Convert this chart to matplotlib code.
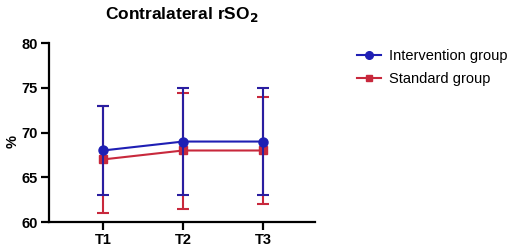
import matplotlib.pyplot as plt
from matplotlib.lines import Line2D
import numpy as np

plt.rcParams['font.family'] = ['Liberation Sans', 'DejaVu Sans']

# data
times = ['T1', 'T2', 'T3']
interv_mean = [68, 69, 69]
interv_upper = [73, 75, 75]
interv_lower = [63, 63, 63]
std_mean = [67, 68, 68]
std_upper = [73, 74.4, 74]
std_lower = [61, 61.5, 62]

blue = '#1f1fb4'
red = '#c8283c'

x = np.arange(len(times))

fig = plt.figure(figsize=(5.1, 2.49), dpi=100)
ax = fig.add_axes([0.096, 0.108, 0.522, 0.719])

std_err = [np.array(std_mean) - np.array(std_lower), np.array(std_upper) - np.array(std_mean)]
int_err = [np.array(interv_mean) - np.array(interv_lower), np.array(interv_upper) - np.array(interv_mean)]

ax.errorbar(x, std_mean, yerr=std_err, color=red, ecolor=red, marker='s', markersize=6,
            linewidth=1.5, elinewidth=1.5, capsize=4, capthick=1.5, zorder=2)
ax.errorbar(x, interv_mean, yerr=int_err, color=blue, ecolor='#2a1ea0', marker='o', markersize=6.5,
            linewidth=1.5, elinewidth=1.5, capsize=4, capthick=1.5, zorder=3)

ax.set_xlim(-0.675, 2.65)
ax.set_ylim(60, 80)
ax.set_yticks([60, 65, 70, 75, 80])
ax.set_xticks(x)
ax.set_xticklabels(times)

for s in ['top', 'right']:
    ax.spines[s].set_visible(False)
for s in ['left', 'bottom']:
    ax.spines[s].set_linewidth(1.6)
ax.tick_params(width=1.6, length=6, labelsize=10.5, pad=2)
for lab in ax.get_xticklabels() + ax.get_yticklabels():
    lab.set_fontweight('bold')

ax.set_ylabel('%', fontsize=10.5, fontweight='bold')
ax.yaxis.set_label_coords(-0.11, 0.45)
ax.set_title('Contralateral rSO$_\\mathbf{2}$', fontsize=12.5, fontweight='bold', pad=17)

handles = [Line2D([], [], color=blue, marker='o', markersize=5.5, linewidth=1.5),
           Line2D([], [], color=red, marker='s', markersize=5, linewidth=1.5)]
labels = ['Intervention group', 'Standard group']
fig.legend(handles, labels, loc='upper left', bbox_to_anchor=(0.675, 0.855),
           frameon=False, fontsize=10.5, handlelength=1.6, handletextpad=0.6, labelspacing=0.6)

fig.savefig('out.png', dpi=100)
